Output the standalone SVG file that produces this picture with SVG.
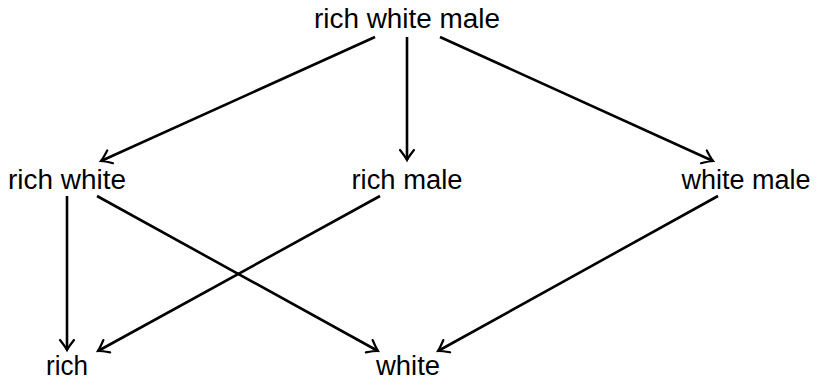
<svg xmlns="http://www.w3.org/2000/svg" width="819" height="382" viewBox="0 0 819 382">
<style>
text{font-family:"Liberation Sans","DejaVu Sans",sans-serif;font-size:27px;fill:#000;text-anchor:middle}
.e{stroke:#000;stroke-width:2.6;fill:none;marker-end:url(#ah)}
</style>
<defs>
<marker id="ah" markerUnits="userSpaceOnUse" viewBox="-12 -8 14 16" refX="0" refY="0" markerWidth="14" markerHeight="16" orient="auto" overflow="visible">
<path d="M-10,-7 Q-3,-1.5 0,0 Q-3,1.5 -10,7" fill="none" stroke="#000" stroke-width="2.2" stroke-linecap="round"/>
</marker>
</defs>
<g id="edges">
<line class="e" x1="375" y1="37" x2="101" y2="161"/>
<line class="e" x1="407" y1="37" x2="407" y2="160"/>
<line class="e" x1="440" y1="37" x2="713" y2="161"/>
<line class="e" x1="67" y1="196" x2="67" y2="350"/>
<line class="e" x1="97" y1="196" x2="378" y2="351"/>
<line class="e" x1="380" y1="196" x2="98" y2="351"/>
<line class="e" x1="718" y1="196" x2="438" y2="351"/>
</g>
<g id="n-rwm"><text x="407" y="28" textLength="186" lengthAdjust="spacingAndGlyphs">rich white male</text></g>
<g id="n-rw"><text x="67" y="189" textLength="118" lengthAdjust="spacingAndGlyphs">rich white</text></g>
<g id="n-rm"><text x="407" y="189" textLength="111" lengthAdjust="spacingAndGlyphs">rich male</text></g>
<g id="n-wm"><text x="746" y="189" textLength="129" lengthAdjust="spacingAndGlyphs">white male</text></g>
<g id="n-r"><text x="67" y="375" textLength="42" lengthAdjust="spacingAndGlyphs">rich</text></g>
<g id="n-w"><text x="408" y="375" textLength="64" lengthAdjust="spacingAndGlyphs">white</text></g>
</svg>
